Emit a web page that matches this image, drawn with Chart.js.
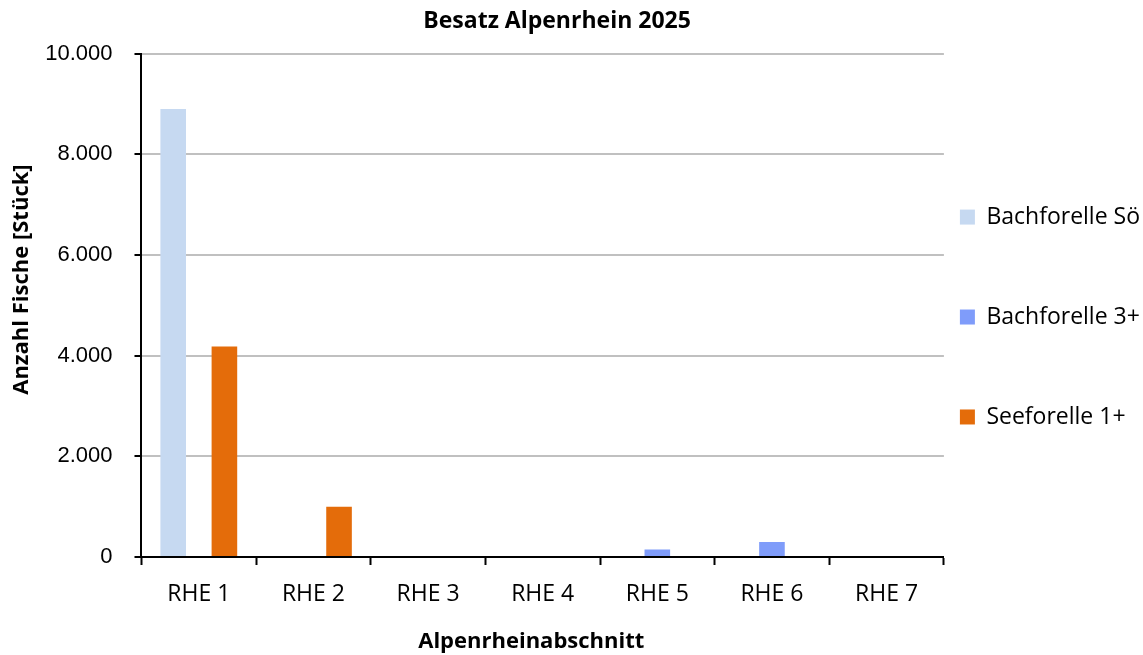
<!DOCTYPE html>
<html>
<head>
<meta charset="utf-8">
<script src="https://cdn.jsdelivr.net/npm/chart.js@4"></script>
<style>
  body { margin: 0; background: #ffffff; }
  #wrap { width: 1143px; height: 655px; }
</style>
</head>
<body>
<div id="wrap"><canvas id="besatz"></canvas></div>
<script>
// Abschnitte entlang des Alpenrheins
var categories = ["RHE 1", "RHE 2", "RHE 3", "RHE 4", "RHE 5", "RHE 6", "RHE 7"];
// Besatzzahlen je Art (Stück)
var bachforelleSoe = [8900, 0, 0, 0, 0, 0, 0];
var bachforelle3 = [0, 0, 0, 0, 150, 300, 0];
var seeforelle1 = [4180, 1000, 0, 0, 0, 0, 0];
var yTicks = [0, 2000, 4000, 6000, 8000, 10000];

// Tausenderpunkt wie im Original
function fmt(v) {
	return String(v).replace(/\B(?=(\d{3})+(?!\d))/g, ".");
}

// Leerzeichen verschieben zentrierte Titel etwas (wie im Original nicht ganz mittig)
function pad(s, before, after) {
	return " ".repeat(before) + s + " ".repeat(after);
}

var ctx = document.getElementById("besatz").getContext("2d");
var chart = new Chart(ctx, {
	type: 'bar',
	data: {
		labels: categories,
		datasets: [
			{ label: 'Bachforelle Sö', data: bachforelleSoe, backgroundColor: '#c6d9f1' },
			{ label: 'Bachforelle 3+', data: bachforelle3, backgroundColor: '#7f9cfa' },
			{ label: 'Seeforelle 1+', data: seeforelle1, backgroundColor: '#e46c0a' }
		]
	},
	options: {
		responsive: true,
		maintainAspectRatio: false,
		animation: false,
		datasets: {
			bar: { categoryPercentage: 0.67, barPercentage: 1.0 }
		},
		layout: { padding: { left: 0, right: -7, top: 2, bottom: 0 } },
		plugins: {
			title: {
				display: true,
				text: pad('Besatz Alpenrhein 2025', 0, 6),
				color: '#000000',
				font: { family: 'Open Sans', size: 23, weight: 'bold' },
				padding: { top: 6, bottom: 18 }
			},
			legend: {
				position: 'right',
				// leerer Titel schiebt die Eintraege etwas nach unten
				title: { display: true, text: '', font: { size: 10, lineHeight: 1 }, padding: { top: 28, bottom: 0 } },
				labels: {
					color: '#000000',
					// grosse Zeilenhoehe = weiter Abstand zwischen den Eintraegen
					font: { family: 'Open Sans', size: 23, lineHeight: 3.65 },
					boxWidth: 15,
					boxHeight: 15,
					padding: 16,
					generateLabels: function(c) {
						var items = Chart.defaults.plugins.legend.labels.generateLabels(c);
						items.forEach(function(it) { it.text = [it.text]; });
						return items;
					}
				}
			},
			tooltip: { enabled: false }
		},
		scales: {
			x: {
				grid: {
					drawOnChartArea: false,
					drawTicks: true,
					tickLength: 8,
					tickColor: '#000000',
					tickWidth: 2
				},
				border: { color: '#000000', width: 2 },
				ticks: {
					color: '#000000',
					font: { family: 'Open Sans', size: 23 },
					padding: 15.7
				},
				title: {
					display: true,
					text: pad('Alpenrheinabschnitt', 0, 4),
					color: '#000000',
					font: { family: 'Open Sans', size: 22, weight: 'bold' },
					padding: { top: 4.6, bottom: 0 }
				}
			},
			y: {
				min: 0,
				max: 10000,
				afterBuildTicks: function(axis) {
					axis.ticks = yTicks.map(function(v) { return { value: v }; });
				},
				grid: {
					color: '#c0c0c0',
					lineWidth: 2,
					tickLength: 7,
					tickColor: '#000000',
					tickWidth: 2
				},
				border: { color: '#000000', width: 2 },
				ticks: {
					color: '#000000',
					font: { family: 'Liberation Sans', size: 22 },
					padding: 22,
					callback: function(v) { return fmt(v); }
				},
				title: {
					display: true,
					text: pad('Anzahl Fische [Stück]', 9, 0),
					color: '#000000',
					font: { family: 'Open Sans', size: 22, weight: 'bold' },
					padding: { top: 8.8, bottom: -12 }
				}
			}
		}
	}
});
</script>
</body>
</html>
